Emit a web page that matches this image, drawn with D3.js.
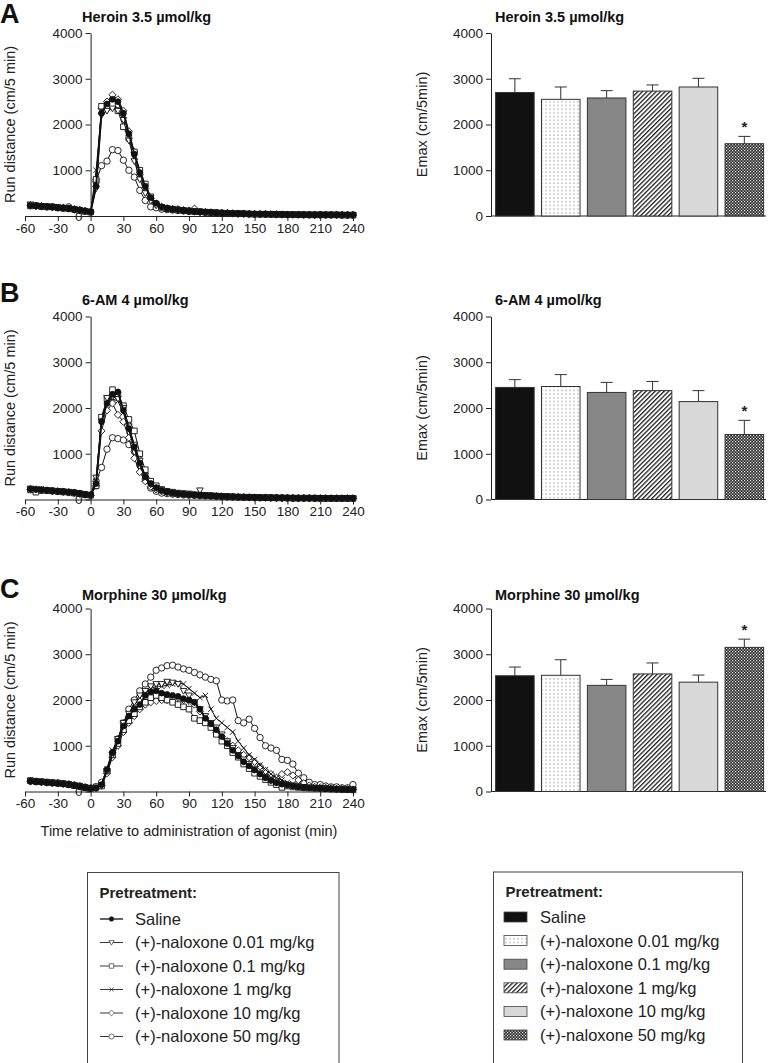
<!DOCTYPE html>
<html><head><meta charset="utf-8">
<script src="https://cdn.jsdelivr.net/npm/d3@7"></script>
<style>body{margin:0;background:#fff}svg{display:block;font-family:"Liberation Sans",Arial,sans-serif}</style>
</head><body><svg id="c" width="770" height="1063"></svg>
<script>
// ---------- DATA ----------
const times = d3.range(-55, 241, 5); // sampling times (min), 60 points
const groups = ["Saline","(+)-naloxone 0.01 mg/kg","(+)-naloxone 0.1 mg/kg","(+)-naloxone 1 mg/kg","(+)-naloxone 10 mg/kg","(+)-naloxone 50 mg/kg"];
const xTicks = [-60,-30,0,30,60,90,120,150,180,210,240];
const yTicks = [0,1000,2000,3000,4000];
const titles = ["Heroin 3.5 µmol/kg","6-AM 4 µmol/kg","Morphine 30 µmol/kg"];
const letters = ["A","B","C"];

// Heroin time course
const heroinSaline = [230,220,215,205,195,185,175,160,145,130,110,90, 650,2250,2450,2550,2500,2250,1800,1350,950,650, 400,280,200,170,150,140,120,110,100,90, 85,80,70,65,60,55,50,50,45,45, 40,40,40,35,35,35,30,30,30,30, 30,30,25,25,25,25,25,25];
const heroinN001 = [250,215,220,200,190,190,170,165,140,125,105,80, 600,2200,2300,2350,2300,2100,1650,1200,800,500, 330,230,190,160,140,130,115,100,95,90, 80,75,70,60,60,50,50,45,45,40, 40,35,40,35,30,30,30,30,25,30, 25,30,25,25,20,25,25,20];
const heroinN01 = [220,225,210,200,200,180,170,165,150,120,100,85, 800,2400,2400,2450,2300,1950,1700,1400,1000,700, 420,260,190,160,150,130,120,110,100,95, 85,75,70,65,60,55,55,50,45,40, 40,40,35,35,35,30,30,30,30,25, 25,25,25,25,25,20,20,20];
const heroinN1 = [260,230,210,210,190,180,175,160,150,125,100,80, 1000,2300,2350,2400,2350,2150,1700,1250,850,600, 380,260,200,165,150,135,125,110,100,90, 85,75,70,65,60,55,50,45,45,40, 40,40,35,35,30,30,30,30,30,25, 25,25,25,25,25,20,25,20];
const heroinN10 = [240,220,220,200,195,185,180,160,145,130,110,85, 800,2350,2500,2650,2550,2300,1850,1400,900,600, 380,270,200,170,150,150,130,120,160,90, 85,80,70,60,60,55,50,50,45,40, 40,40,35,35,35,30,30,30,30,30, 25,25,25,25,25,25,20,20];
const heroinN50 = [230,225,205,205,200,180,175,200,140,130,110,90, 750,1100,1200,1450,1430,1220,1000,850,560,340, 200,180,150,140,130,120,110,100,95,90, 80,75,70,65,60,55,50,50,45,40, 40,40,35,35,30,30,30,30,25,25, 25,25,25,25,25,20,20,20];

// 6-AM time course
const amSaline = [230,220,210,200,190,180,170,160,150,130,110,100, 350,1700,2100,2300,2350,1950,1550,1150,800,500, 350,260,200,170,150,130,120,110,100,95, 90,80,75,70,65,60,55,50,50,45, 45,40,40,40,35,35,35,30,30,30, 30,30,30,25,25,25,25,25];
const amN001 = [240,215,210,205,185,180,175,155,150,125,110,90, 480,1710,2220,2250,2200,2000,1600,1200,850,520, 330,250,200,160,140,130,120,130,100,200, 90,80,70,65,60,60,55,50,45,45, 40,40,40,35,35,35,30,30,30,30, 30,25,25,25,25,25,25,25];
const amN01 = [210,160,205,200,190,180,165,160,140,130,105,95, 300,1800,2200,2400,2300,2050,1750,1500,1000,650, 400,300,220,180,160,140,130,115,105,95, 90,85,75,70,65,60,55,50,50,45, 40,40,40,35,35,35,30,30,30,30, 30,25,25,25,25,25,25,25];
const amN1 = [230,225,240,200,195,180,170,160,145,130,110,95, 400,1800,2150,2200,2150,1900,1500,1100,750,450, 320,240,190,160,140,130,120,110,100,90, 85,80,75,70,60,55,55,50,45,45, 40,40,40,35,35,35,30,30,30,30, 25,25,25,25,25,25,25,25];
const amN10 = [225,220,210,200,190,180,170,155,145,125,105,90, 300,1500,1950,2100,1850,1700,1350,900,600,400, 280,220,180,150,130,120,110,100,95,90, 85,80,70,65,60,55,50,50,45,40, 40,40,35,35,35,30,30,30,30,30, 25,25,25,25,25,25,25,25];
const amN50 = [220,210,200,195,185,175,170,160,150,130,110,95, 400,700,1100,1350,1330,1300,1200,1050,750,450, 250,180,140,130,120,110,100,95,90,85, 80,75,70,65,60,55,50,50,45,45, 40,40,35,35,35,30,30,30,30,30, 25,25,25,25,25,25,25,25];

// Morphine time course
const morSaline = [220,210,205,195,185,175,165,150,130,110,80,60, 70,150,480,850,1100,1430,1650,1800,1900,2100, 2180,2200,2150,2120,2100,2080,2030,2000,1950,1800, 1600,1480,1350,1200,1050,900,780,650,560,470, 380,300,240,190,160,140,120,100,90,80, 75,70,60,55,50,45,40,40];
const morN001 = [230,215,210,200,190,180,170,150,135,110,85,65, 80,130,450,800,1150,1500,1700,1950,2100,2200, 2300,2350,2350,2400,2380,2350,2200,2100,1950,1800, 1650,1500,1400,1250,1100,950,800,700,600,500, 400,320,260,200,170,150,130,110,100,90, 80,70,65,60,50,50,45,40];
const morN01 = [240,225,215,205,195,185,170,155,130,115,90,70, 100,120,450,800,1050,1350,1550,1700,1850,1950, 2050,2100,2050,2000,1950,1900,1850,1800,1600,1550, 1500,1400,1250,1100,1000,850,750,600,500,400, 330,260,200,150,90,120,100,90,80,75, 70,65,60,55,50,45,40,35];
const morN1 = [235,220,210,200,190,180,165,150,135,115,85,65, 90,150,500,900,1150,1500,1700,1900,2050,2150, 2250,2300,2300,2320,2350,2380,2350,2250,2150,2050, 2100,1800,1600,1500,1400,1300,1100,950,800,700, 580,480,380,300,250,200,170,140,120,100, 90,80,70,65,60,55,50,45];
const morN10 = [225,215,205,195,190,180,170,155,135,110,90,70, 90,130,400,750,1000,1300,1500,1650,1800,1900, 1950,1980,2000,2000,2050,2050,2000,1980,1900,1750, 1600,1450,1300,1200,1100,1000,900,800,750,650, 550,450,380,300,380,420,350,250,180,130, 100,90,80,70,60,55,50,45];
const morN50 = [230,220,210,200,190,185,170,160,140,120,95,75, 100,200,450,850,1150,1500,1800,2000,2200,2350, 2500,2650,2700,2750,2760,2720,2680,2650,2600,2550, 2500,2450,2420,2000,1980,2000,1550,1500,1580,1380, 1180,1000,950,900,700,680,600,400,300,200, 150,150,120,100,100,80,80,150];

// Emax (mean) and SEM per pretreatment group
const emaxHeroin = [2700,2550,2580,2730,2820,1580];
const semHeroin  = [300,270,160,135,190,160];
const emaxAM     = [2450,2470,2340,2380,2140,1420];
const semAM      = [170,260,220,200,240,310];
const emaxMor    = [2530,2540,2320,2570,2390,3150];
const semMor     = [190,340,130,240,155,180];
const significant = [false,false,false,false,false,true];

// ---------- DRAW ----------
const svg = d3.select("#c");
const defs = svg.append("defs");
const pDot = defs.append("pattern").attr("id","pDot").attr("patternUnits","userSpaceOnUse").attr("width",4).attr("height",3.7);
pDot.append("rect").attr("width",4).attr("height",3.7).attr("fill","#fff");
pDot.append("rect").attr("x",1.5).attr("y",1.4).attr("width",1).attr("height",1).attr("fill","#666");
const pHatch = defs.append("pattern").attr("id","pHatch").attr("patternUnits","userSpaceOnUse").attr("width",3.2).attr("height",3.2).attr("patternTransform","rotate(45)");
pHatch.append("rect").attr("width",3.2).attr("height",3.2).attr("fill","#fff");
pHatch.append("rect").attr("x",0).attr("width",1.3).attr("height",3.2).attr("fill","#222");
const pCheck = defs.append("pattern").attr("id","pCheck").attr("patternUnits","userSpaceOnUse").attr("width",3).attr("height",3);
pCheck.append("rect").attr("width",3).attr("height",3).attr("fill","#2a2a2a");
pCheck.append("rect").attr("x",0).attr("y",0).attr("width",1.2).attr("height",1.2).attr("fill","#eee");
pCheck.append("rect").attr("x",1.5).attr("y",1.5).attr("width",1.2).attr("height",1.2).attr("fill","#eee");
const barFills = ["#111","url(#pDot)","#878787","url(#pHatch)","#d8d8d8","url(#pCheck)"];

const markerPath = [
  "M-2.9,0A2.9,2.9 0 1,0 2.9,0A2.9,2.9 0 1,0 -2.9,0Z",
  "M0,3.3L-3.3,-2.4L3.3,-2.4Z",
  "M-2.8,-2.8H2.8V2.8H-2.8Z",
  "M-2.7,-2.7L2.7,2.7M-2.7,2.7L2.7,-2.7",
  "M0,-3.6L3.6,0L0,3.6L-3.6,0Z",
  "M-3.2,0A3.2,3.2 0 1,0 3.2,0A3.2,3.2 0 1,0 -3.2,0Z"
];
const markerFill = ["#111","#fff","#fff","none","#fff","#fff"];

const panels = [
  {top:33, series:[heroinSaline,heroinN001,heroinN01,heroinN1,heroinN10,heroinN50], emax:emaxHeroin, sem:semHeroin, letterY:23, titleY:22},
  {top:316.5, series:[amSaline,amN001,amN01,amN1,amN10,amN50], emax:emaxAM, sem:semAM, letterY:302, titleY:305},
  {top:608.5, series:[morSaline,morN001,morN01,morN1,morN10,morN50], emax:emaxMor, sem:semMor, letterY:598, titleY:600}
];
const H = 183;
const x = d3.scaleLinear().domain([-60,240]).range([25,353]);
const fmt = d => String(d);

function styleAxis(g){
  g.selectAll("path").attr("stroke","#222").attr("stroke-width",1);
  g.selectAll("line").attr("stroke","#222").attr("stroke-width",1);
  g.selectAll("text").attr("font-size",13.5).attr("fill","#222").attr("font-family","Liberation Sans, Arial, sans-serif");
}

panels.forEach((p,pi)=>{
  const y = d3.scaleLinear().domain([0,4000]).range([p.top+H, p.top]);
  svg.append("text").attr("x",0).attr("y",p.letterY).attr("font-size",27).attr("font-weight","bold").attr("fill","#111").text(letters[pi]);
  svg.append("text").attr("x",82).attr("y",p.titleY).attr("font-size",14.5).attr("font-weight","bold").attr("fill","#111").text(titles[pi]);
  svg.append("text").attr("x",495).attr("y",p.titleY).attr("font-size",14.5).attr("font-weight","bold").attr("fill","#111").text(titles[pi]);

  // ---- line chart ----
  const gx = svg.append("g").attr("transform",`translate(0,${p.top+H})`)
    .call(d3.axisBottom(x).tickValues(xTicks).tickFormat(fmt).tickSizeInner(5).tickSizeOuter(0).tickPadding(2));
  styleAxis(gx);
  const gy = svg.append("g").attr("transform",`translate(${x(0)},0)`)
    .call(d3.axisLeft(y).tickValues(yTicks).tickFormat(fmt).tickSizeInner(5).tickSizeOuter(0).tickPadding(3));
  styleAxis(gy);
  svg.append("text").attr("transform",`translate(15,${p.top+H/2}) rotate(-90)`).attr("text-anchor","middle")
    .attr("font-size",14.5).attr("fill","#222").text("Run distance (cm/5 min)");

  const line = d3.line().x(d=>x(d[0])).y(d=>y(d[1]));
  const order = [5,4,3,2,1,0];
  order.forEach(si=>{
    const pts = times.map((t,i)=>[t,p.series[si][i]]);
    svg.append("path").datum(pts).attr("d",line).attr("fill","none")
      .attr("stroke","#111").attr("stroke-width", si===0?1.8:1);
    svg.append("g").selectAll("path").data(pts).join("path")
      .attr("transform",d=>`translate(${x(d[0])},${y(d[1])})`)
      .attr("d",markerPath[si]).attr("fill",markerFill[si]).attr("stroke","#111").attr("stroke-width",0.9);
  });

  // ---- bar chart ----
  const bx = d3.scaleBand().domain(groups).range([491,768.2]).paddingInner(0.16).paddingOuter(0.1);
  const by = y;
  const gby = svg.append("g").attr("transform","translate(491,0)")
    .call(d3.axisLeft(by).tickValues(yTicks).tickFormat(fmt).tickSizeInner(5).tickSizeOuter(0).tickPadding(3));
  styleAxis(gby);
  svg.append("line").attr("x1",491).attr("x2",766).attr("y1",p.top+H).attr("y2",p.top+H).attr("stroke","#222");
  svg.append("text").attr("transform",`translate(427,${p.top+H/2}) rotate(-90)`).attr("text-anchor","middle")
    .attr("font-size",14.5).attr("fill","#222").text("Emax (cm/5min)");
  const bars = groups.map((g,i)=>({g,i,v:p.emax[i],e:p.sem[i]}));
  svg.append("g").selectAll("g").data(bars).join("g").each(function(d){
    const cx = bx(d.g)+bx.bandwidth()/2;
    const s = d3.select(this);
    s.append("line").attr("x1",cx).attr("x2",cx).attr("y1",by(d.v)).attr("y2",by(d.v+d.e)).attr("stroke","#333");
    s.append("line").attr("x1",cx-6).attr("x2",cx+6).attr("y1",by(d.v+d.e)).attr("y2",by(d.v+d.e)).attr("stroke","#333");
    if(significant[d.i]) s.append("text").attr("x",cx).attr("y",by(d.v+d.e)-4).attr("text-anchor","middle")
      .attr("font-size",15).attr("font-weight","bold").attr("fill","#222").text("*");
  });
  svg.append("g").selectAll("rect").data(bars).join("rect")
    .attr("x",d=>bx(d.g)).attr("width",bx.bandwidth())
    .attr("y",d=>by(d.v)).attr("height",d=>by(0)-by(d.v))
    .attr("fill",d=>barFills[d.i]).attr("stroke","#333").attr("stroke-width",1);
});

svg.append("text").attr("x",(x(-60)+x(240))/2).attr("y",836).attr("text-anchor","middle")
  .attr("font-size",14.5).attr("fill","#222").text("Time relative to administration of agonist (min)");

// ---- legends ----
function legendBox(x0,y0,w){
  svg.append("rect").attr("x",x0).attr("y",y0).attr("width",w).attr("height",260)
    .attr("fill","#fff").attr("stroke","#444").attr("stroke-width",1);
  svg.append("text").attr("x",x0+12).attr("y",y0+25).attr("font-size",15).attr("font-weight","bold").attr("fill","#222").text("Pretreatment:");
}
legendBox(87.5,872.5,251.5);
legendBox(493.5,872,249);

const lg = svg.append("g").selectAll("g").data(groups).join("g")
  .attr("transform",(d,i)=>`translate(0,${919+i*23.5})`);
lg.append("line").attr("x1",100).attr("x2",123).attr("stroke","#222").attr("stroke-width",(d,i)=>i===0?1.4:0.9);
lg.append("path").attr("transform","translate(111.5,0) scale(0.8)").attr("d",(d,i)=>markerPath[i])
  .attr("fill",(d,i)=>markerFill[i]).attr("stroke","#222").attr("stroke-width",0.8);
lg.append("text").attr("x",135).attr("dy","0.36em").attr("font-size",16.5).attr("fill","#222").text(d=>d);

const rg = svg.append("g").selectAll("g").data(groups).join("g")
  .attr("transform",(d,i)=>`translate(0,${917+i*23.6})`);
rg.append("rect").attr("x",504).attr("y",-5).attr("width",23).attr("height",10)
  .attr("fill",(d,i)=>barFills[i]).attr("stroke","#444").attr("stroke-width",0.8);
rg.append("text").attr("x",540).attr("dy","0.36em").attr("font-size",16.5).attr("fill","#222").text(d=>d);
</script></body></html>
